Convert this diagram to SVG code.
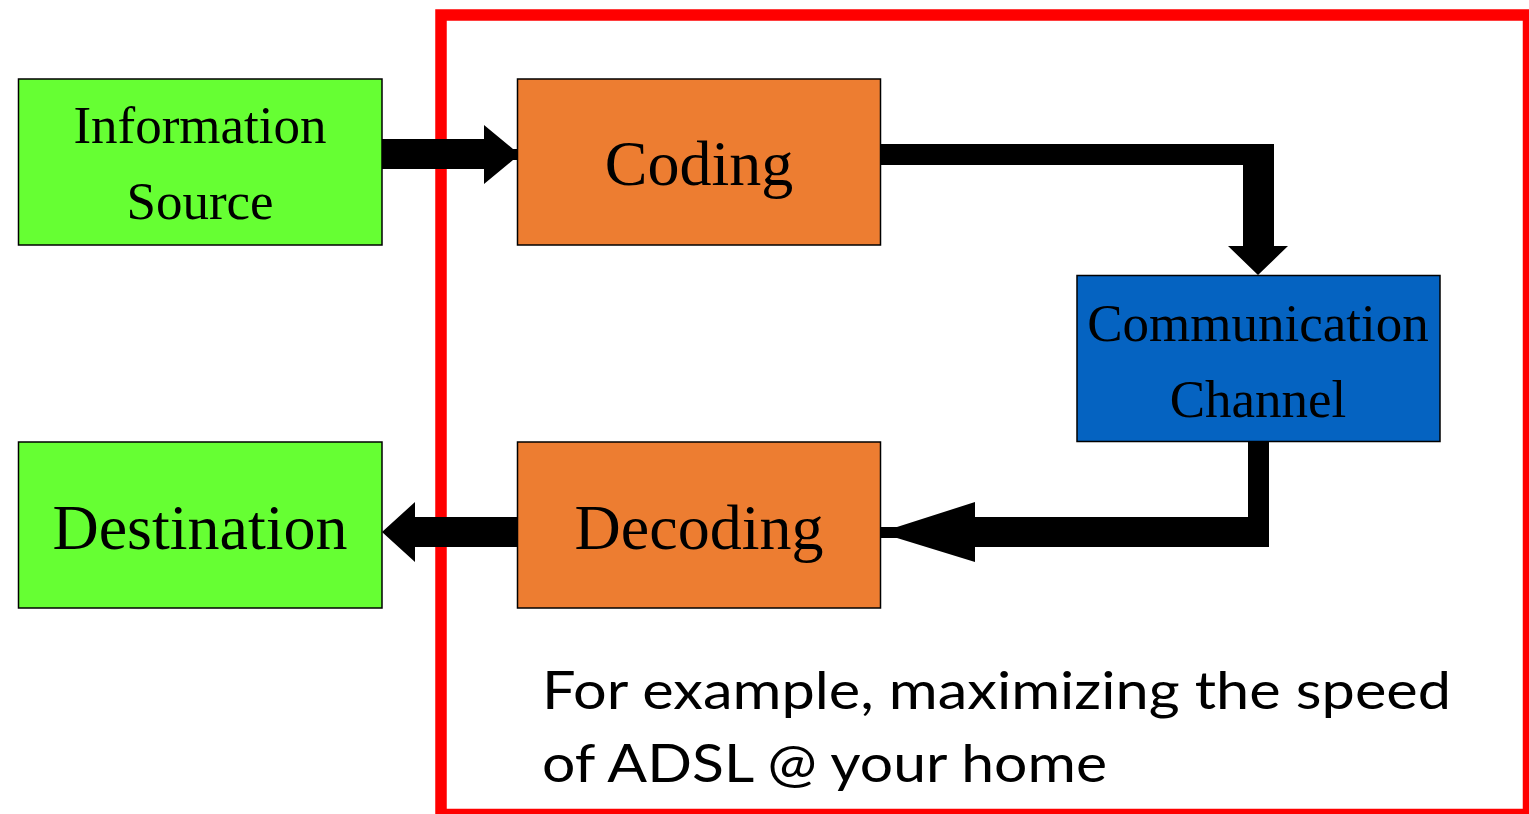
<svg xmlns="http://www.w3.org/2000/svg" width="1529" height="814" viewBox="0 0 1529 814">
<style>
.box{stroke:#000;stroke-width:1.5}
.green{fill:#66FF33}
.orange{fill:#ED7D31}
.blue{fill:#0563C1}
.lbl{font-family:"Liberation Serif","Times New Roman",serif;fill:#000;text-anchor:middle}
.s53{font-size:53px}
.s64{font-size:64px}
.note{font-family:Lato,"Open Sans","Liberation Sans",sans-serif;font-size:52px;fill:#000}
.arrow{fill:#000}
</style>
<rect width="1529" height="814" fill="#fff"/>
<rect id="frame" x="441" y="15" width="1087.5" height="799.5" fill="none" stroke="#FF0000" stroke-width="11.5"/>
<g id="connectors">
<polygon class="arrow" points="382,139 484,139 484,125 513,149 517,149 517,160 513,160 484,184 484,169 382,169"/>
<polygon class="arrow" points="880,144 1274,144 1274,246 1288,246 1258,275 1228,246 1243,246 1243,165 880,165"/>
<polygon class="arrow" points="1248,442 1269,442 1269,547 975,547 975,562 897,538 881,538 881,527 897,527 975,502 975,517 1248,517"/>
<polygon class="arrow" points="517,517 415,517 415,502 382,532 415,562 415,547 517,547"/>
</g>
<g id="source">
<rect class="box green" x="18.5" y="79" width="363.5" height="166"/>
<text class="lbl s53" x="200" y="143">Information</text>
<text class="lbl s53" x="200" y="219">Source</text>
</g>
<g id="coding">
<rect class="box orange" x="517.5" y="79" width="363" height="166"/>
<text class="lbl s64" x="699" y="185">Coding</text>
</g>
<g id="channel">
<rect class="box blue" x="1077" y="275.5" width="363" height="166"/>
<text class="lbl s53" x="1258" y="341">Communication</text>
<text class="lbl s53" x="1258" y="417">Channel</text>
</g>
<g id="destination">
<rect class="box green" x="18.5" y="442" width="363.5" height="166"/>
<text class="lbl s64" x="200" y="549">Destination</text>
</g>
<g id="decoding">
<rect class="box orange" x="517.5" y="442" width="363" height="166"/>
<text class="lbl s64" x="699" y="549">Decoding</text>
</g>
<g id="note">
<text class="note" x="542" y="709" textLength="909" lengthAdjust="spacingAndGlyphs">For example, maximizing the speed</text>
<text class="note" x="542" y="782" textLength="565" lengthAdjust="spacingAndGlyphs">of ADSL @ your home</text>
</g>
</svg>
